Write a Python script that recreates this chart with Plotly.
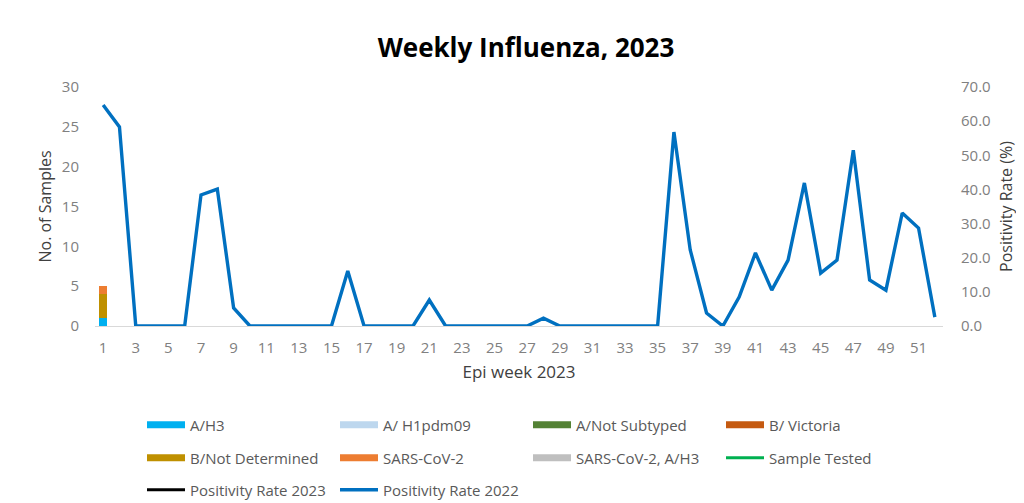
import plotly.graph_objects as go

weeks = list(range(1, 53))
week_ticks = list(range(1, 52, 2))

bar_weeks = [1]
a_h3 = [1]
a_h1pdm09 = [0]
a_not_subtyped = [0]
b_victoria = [0]
b_not_determined = [3]
sars_cov2 = [1]
sars_cov2_a_h3 = [0]

# no values visible in the reference for these series
sample_tested = [None]
positivity_2023 = [None]

positivity_2022 = [64.7, 58.3, 0, 0, 0, 0, 38.4, 40.1, 5.3, 0,
                   0, 0, 0, 0, 0, 16.1, 0, 0, 0, 0,
                   7.6, 0, 0, 0, 0, 0, 0, 2.3, 0, 0,
                   0, 0, 0, 0, 0, 56.8, 22.3, 3.8, 0, 8.5,
                   21.4, 10.5, 19.3, 41.9, 15.5, 19.3, 51.5, 13.5, 10.5, 33.1,
                   28.7, 2.6]

bar_series = [
    ("A/H3", a_h3, "#00B0F0", "legend"),
    ("A/ H1pdm09", a_h1pdm09, "#BDD7EE", "legend"),
    ("A/Not Subtyped", a_not_subtyped, "#548235", "legend"),
    ("B/ Victoria", b_victoria, "#C55A11", "legend"),
    ("B/Not Determined", b_not_determined, "#BF9000", "legend2"),
    ("SARS-CoV-2", sars_cov2, "#ED7D31", "legend2"),
    ("SARS-CoV-2, A/H3", sars_cov2_a_h3, "#BFBFBF", "legend2"),
]

# The page body adds an 8px offset; the figure is sized and laid out to compensate.
W, H = 1016, 495

fig = go.Figure()
for name, vals, color, lg in bar_series:
    fig.add_trace(go.Bar(x=bar_weeks, y=vals, marker_color=color, showlegend=False,
                         legendgroup=name, width=0.5, yaxis="y"))
    # legend proxy drawn as a wide rectangle like the reference
    fig.add_trace(go.Scatter(x=[None], y=[None], mode="lines", name=name, legendgroup=name,
                             line=dict(color=color, width=7), legend=lg, hoverinfo="skip"))

fig.add_trace(go.Scatter(x=bar_weeks, y=sample_tested, mode="lines", name="Sample Tested",
                         line=dict(color="#00B050", width=3), legend="legend2"))
fig.add_trace(go.Scatter(x=bar_weeks, y=positivity_2023, mode="lines", name="Positivity Rate 2023",
                         line=dict(color="#000000", width=3), legend="legend3", yaxis="y2"))
fig.add_trace(go.Scatter(x=weeks, y=positivity_2022, mode="lines", name="Positivity Rate 2022",
                         line=dict(color="#0070C0", width=3.4), legend="legend3", yaxis="y2"))

font_family = "Open Sans, Liberation Sans, sans-serif"
tick_gray = "#808080"
title_gray = "#404040"
leg_common = dict(orientation="h", xref="container", yref="container", x=134/W,
                  xanchor="left", yanchor="middle", entrywidth=140, entrywidthmode="pixels",
                  font=dict(family=font_family, size=15, color="#595959"), bgcolor="rgba(0,0,0,0)",
                  itemwidth=38)

fig.update_layout(
    template="none",
    width=W, height=H,
    paper_bgcolor="white", plot_bgcolor="white",
    margin=dict(l=87, r=81, t=79, b=177, autoexpand=False),
    barmode="stack",
    title=dict(text="<b>Weekly Influenza, 2023</b>", x=518/W, xanchor="center",
               y=1-40/H, yanchor="middle", font=dict(family=font_family, size=26, color="#000000")),
    font=dict(family=font_family, size=15, color=tick_gray),
    xaxis=dict(range=[0.5, 52.5], tickvals=week_ticks, showgrid=False, zeroline=False,
               showline=True, linecolor="#D9D9D9", linewidth=1, ticks="", automargin=False,
               ticklabelstandoff=8,
               title=dict(text="Epi week 2023", font=dict(size=17, color=title_gray), standoff=10),
               tickfont=dict(size=15, color=tick_gray)),
    yaxis=dict(range=[0, 30], dtick=5, showgrid=False, zeroline=False, showline=False,
               ticks="", automargin=False, ticklabelstandoff=15,
               title=dict(text="No. of Samples", font=dict(size=16, color=title_gray), standoff=6),
               tickfont=dict(size=15, color=tick_gray)),
    yaxis2=dict(range=[0, 70], dtick=10, tickformat=".1f", overlaying="y", side="right",
                showgrid=False, zeroline=False, showline=False, ticks="", automargin=False,
                ticklabelstandoff=17,
                title=dict(text="Positivity Rate (%)", font=dict(size=16, color=title_gray), standoff=11),
                tickfont=dict(size=15, color=tick_gray)),
    legend=dict(y=1-417/H, **leg_common),
    legend2=dict(y=1-450/H, **leg_common),
    legend3=dict(y=1-482/H, **leg_common),
)

fig.write_html("out.html")
